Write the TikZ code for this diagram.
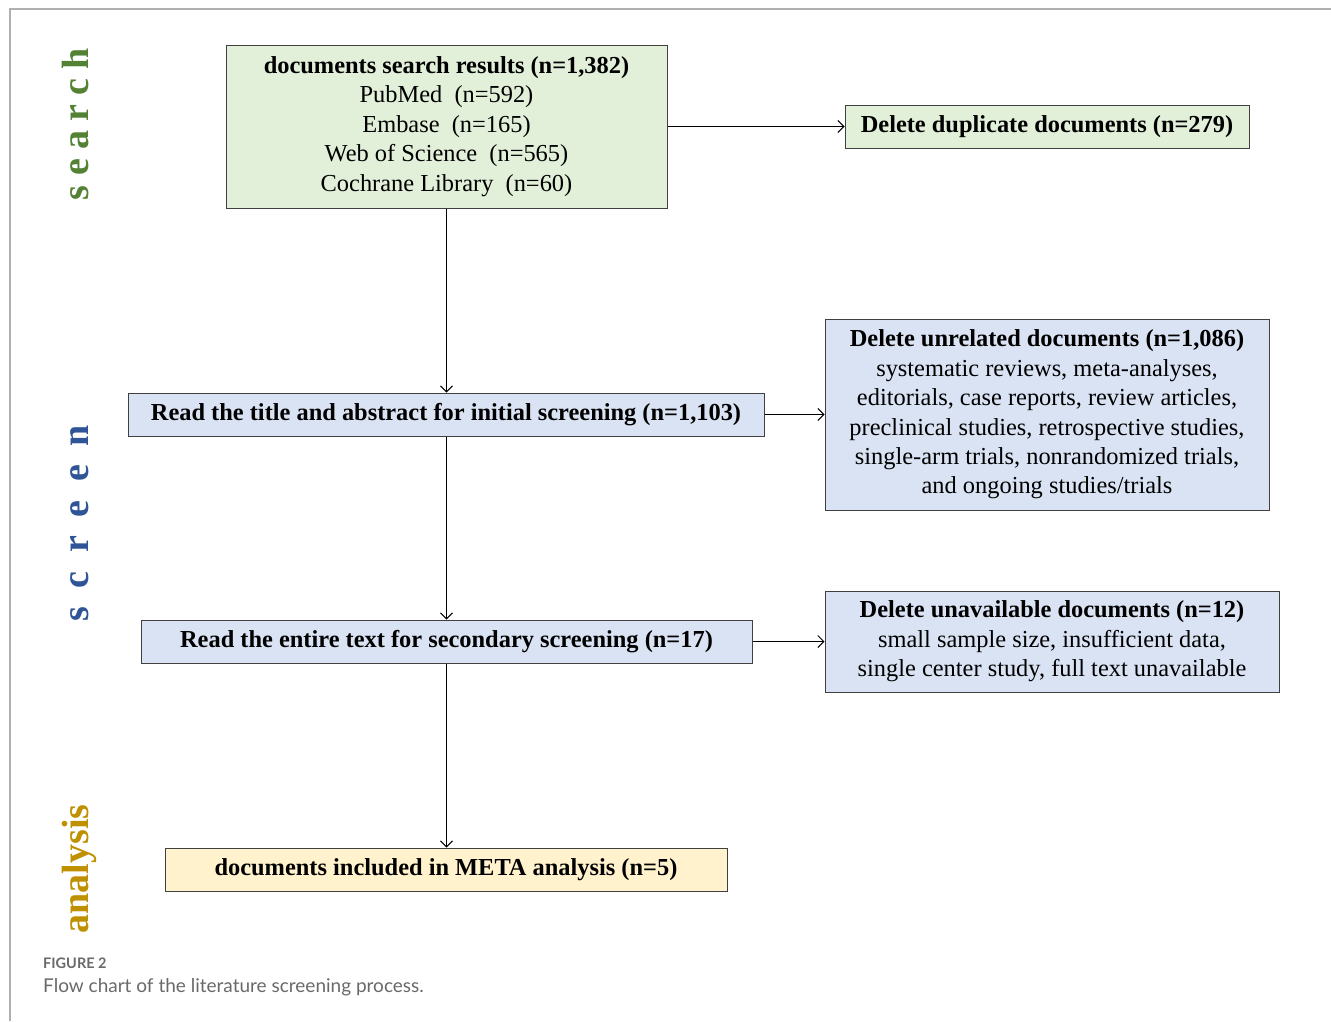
\documentclass[tikz,border=0pt]{standalone}
\usepackage{fontspec}
\setmainfont{Liberation Serif}
\newfontfamily\capfont{Lato}
\usetikzlibrary{arrows.meta}
\definecolor{gfill}{RGB}{226,239,217}
\definecolor{bfill}{RGB}{218,227,243}
\definecolor{yfill}{RGB}{255,242,204}
\definecolor{lgreen}{RGB}{84,130,53}
\definecolor{lblue}{RGB}{47,85,151}
\definecolor{lgold}{RGB}{191,144,0}
\definecolor{framegray}{RGB}{175,175,175}
\definecolor{capgray}{RGB}{105,105,105}
\begin{document}
\begin{tikzpicture}[x=1pt,y=-1pt,
  box/.style={draw=black!75, line width=1pt, inner sep=0pt, align=center,
    font=\fontsize{24.4}{29.4}\selectfont},
  conn/.style={-{Straight Barb[length=6pt,width=12pt]}, line width=1pt},
  side/.style={rotate=90, anchor=base, inner sep=0pt, font=\fontsize{38}{38}\selectfont\bfseries}]
\useasboundingbox (0,0) rectangle (1331,1021);
\draw[framegray, line width=1.5pt] (10,1021) -- (10,9) -- (1331,9);

\node[side, text=lgreen] (lsearch) at (88,124) {s\hspace{9.3pt}e\hspace{9.3pt}a\hspace{9.3pt}r\hspace{9.3pt}c\hspace{9.3pt}h};
\node[side, text=lblue] (lscreen) at (88,523.5) {s\hspace{18.7pt}c\hspace{18.7pt}r\hspace{18.7pt}e\hspace{18.7pt}e\hspace{18.7pt}n};
\node[side, text=lgold] (lanalysis) at (88,869) {analysis};

\node[box, fill=gfill, minimum width=441pt, minimum height=163pt] (search) at (446.5,126.5)
  {\textbf{documents search results (n=1,382)}\\PubMed\ \ (n=592)\\Embase\ \ (n=165)\\Web of Science\ \ (n=565)\\Cochrane Library\ \ (n=60)};
\node[box, fill=gfill, minimum width=404pt, minimum height=43pt] (dup) at (1047,126.5)
  {\textbf{Delete duplicate documents (n=279)}};
\node[box, fill=bfill, minimum width=636pt, minimum height=43pt] (title) at (446,414.5)
  {\textbf{Read the title and abstract for initial screening (n=1,103)}};
\node[box, fill=bfill, minimum width=444pt, minimum height=191pt] (unrel) at (1047,414.5)
  {\textbf{Delete unrelated documents (n=1,086)}\\systematic reviews, meta-analyses,\\editorials, case reports, review articles,\\preclinical studies, retrospective studies,\\single-arm trials, nonrandomized trials,\\and ongoing studies/trials};
\node[box, fill=bfill, minimum width=611pt, minimum height=43pt] (full) at (446.5,641.5)
  {\textbf{Read the entire text for secondary screening (n=17)}};
\node[box, fill=bfill, minimum width=454pt, minimum height=101pt] (unavail) at (1052,641.5)
  {\textbf{Delete unavailable documents (n=12)}\\small sample size, insufficient data,\\single center study, full text unavailable};
\node[box, fill=yfill, minimum width=562pt, minimum height=43pt] (incl) at (446,869.5)
  {\textbf{documents included in META analysis (n=5)}};

\draw[conn] (search.east) -- (dup.west);
\draw[conn] (search.south) -- (search.south |- title.north);
\draw[conn] (title.east) -- (unrel.west);
\draw[conn] (search.south |- title.south) -- (search.south |- full.north);
\draw[conn] (full.east) -- (full.east -| unavail.west);
\draw[conn] (search.south |- full.south) -- (search.south |- incl.north);

\node[anchor=base west, inner sep=0pt, text=capgray, font=\capfont\bfseries\fontsize{14.5}{14.5}\selectfont] (fig) at (43,968) {FIGURE 2};
\node[anchor=base west, inner sep=0pt, text=capgray, font=\capfont\fontsize{19}{19}\selectfont] (cap) at (43,992) {Flow chart of the literature screening process.};
\end{tikzpicture}
\end{document}
